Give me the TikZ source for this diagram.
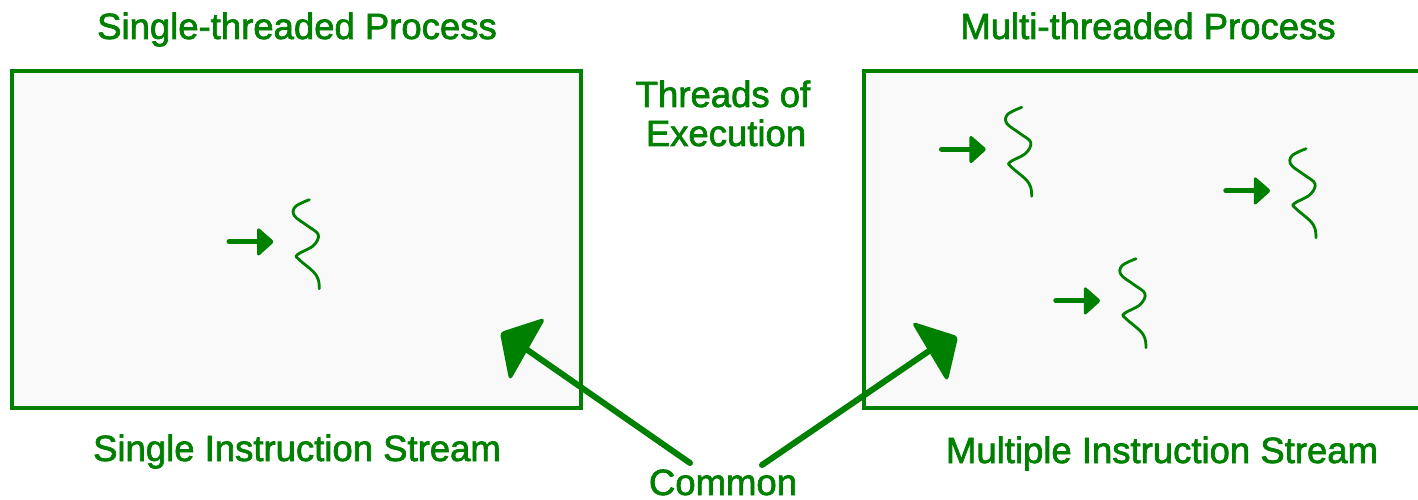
\documentclass[tikz,border=0pt]{standalone}
\usepackage{fontspec}
\setmainfont{Liberation Sans}
\newcommand{\heavytext}[1]{\special{pdf:code 2 Tr 0.7 w}#1\special{pdf:code 0 Tr}}
\definecolor{gr}{RGB}{0,128,0}
\definecolor{bg}{RGB}{249,249,249}
\tikzset{
  lbl/.style={text=gr, font=\fontsize{36.5}{44}\selectfont, anchor=base, inner sep=0pt},
  procbox/.style={draw=gr, fill=bg, line width=4pt},
  pointer/.style={draw=gr, line width=6pt, line cap=round},
  headfill/.style={fill=gr, draw=gr, line width=2pt, line join=round, rounded corners=3pt},
  thread/.pic={
    \draw[gr, line width=5.5pt, line cap=round] (0,0) -- (28,0);
    \filldraw[gr, line width=1.5pt, line join=round, rounded corners=2pt] (28.5,-13.5) -- (44,0) -- (28.5,14) -- cycle;
    \draw[gr, line width=2.8pt, line cap=round] plot[smooth, tension=0.6] coordinates
      {(80,-42) (66,-35) (65,-26) (78,-16) (89,-7) (84,4) (68,13) (70,18) (84,30) (89,38) (90,47)};
  }
}
\begin{document}
\begin{tikzpicture}[x=1pt,y=-1pt]
\useasboundingbox (0,0) rectangle (1418,500);
\begin{scope}
\clip (0,0) rectangle (1418,500);
\draw[procbox] (12,71) rectangle (581,408);
\draw[procbox] (864,71) rectangle (1430,408);
\end{scope}

\node[lbl] (t1) at (297,39) {\heavytext{Single-threaded Process}};
\node[lbl] (t2) at (1148,39) {\heavytext{Multi-threaded Process}};
\node[lbl] (th1) at (723,107) {\heavytext{Threads of}};
\node[lbl] (th2) at (726,146) {\heavytext{Execution}};
\node[lbl] (s1) at (297,461) {\heavytext{Single Instruction Stream}};
\node[lbl] (s2) at (1162,463) {\heavytext{Multiple Instruction Stream}};
\node[lbl] (cm) at (723,495) {\heavytext{Common}};

\pic at (229.3,241.7) {thread};
\pic at (941.7,149.3) {thread};
\pic at (1056,300.7) {thread};
\pic at (1226,190.7) {thread};

\coordinate (cl) at (690,463);
\coordinate (hl) at (526,349);
\coordinate (cr) at (762,465);
\coordinate (hr) at (929,351);
\draw[pointer] (cl) -- (hl);
\draw[pointer] (cr) -- (hr);
\path[headfill] (501,333) -- (544,319) -- (510,379) -- cycle;
\path[headfill] (913,323) -- (957,337) -- (947,380) -- cycle;
\end{tikzpicture}
\end{document}
